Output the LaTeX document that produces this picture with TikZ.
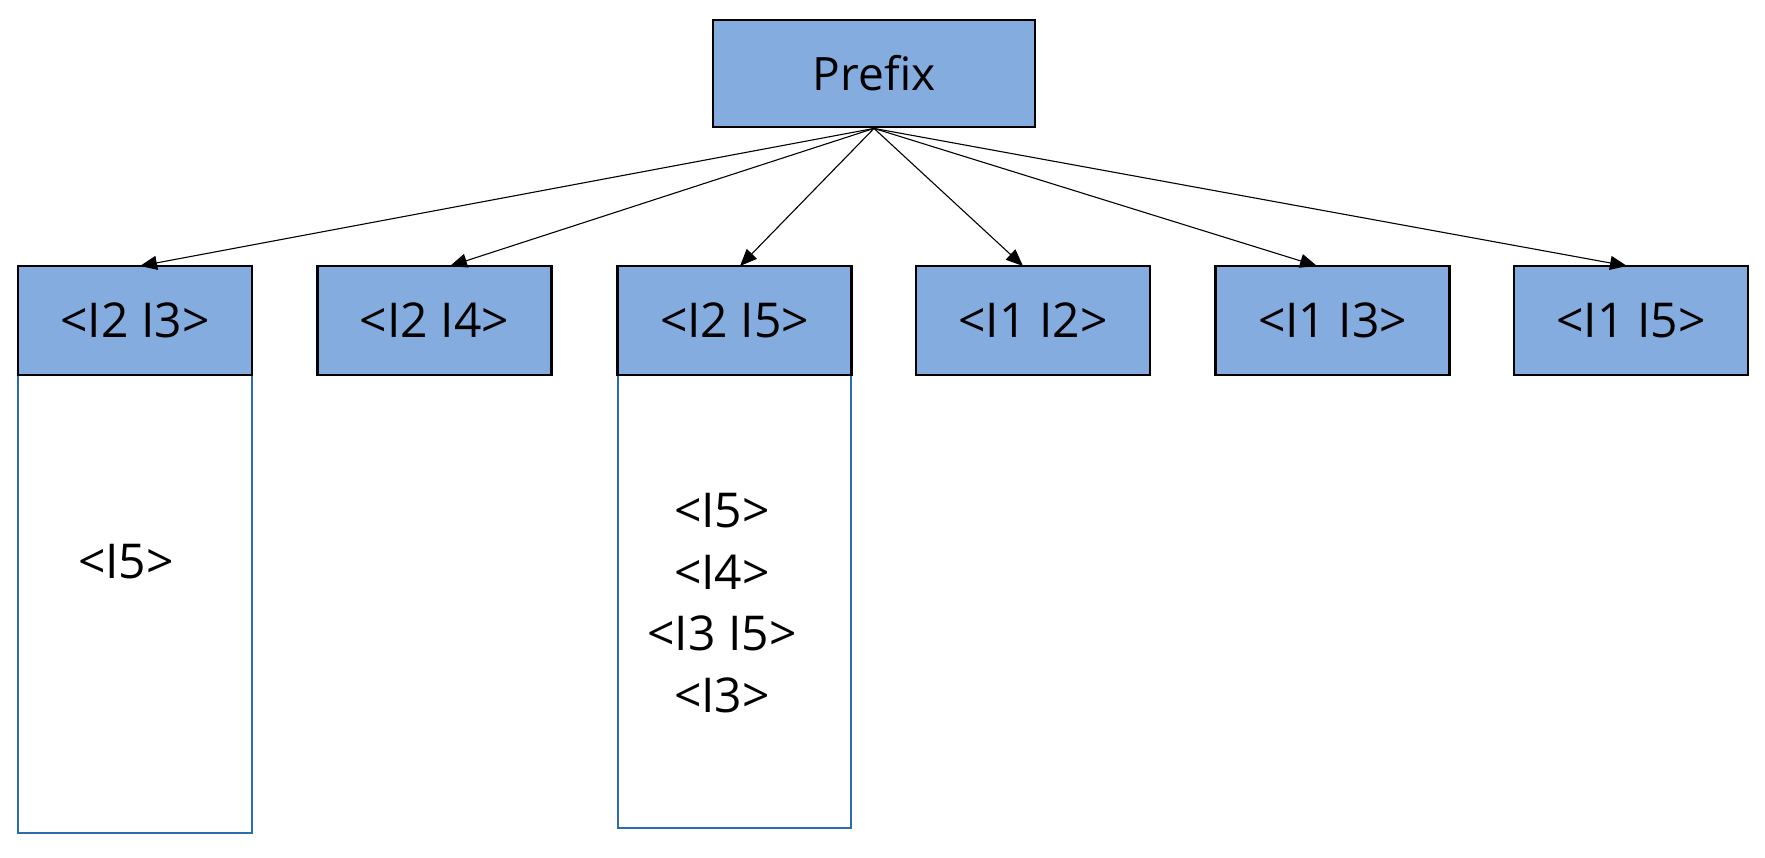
\documentclass[tikz,border=0pt]{standalone}
\usepackage{fontspec}
\setmainfont{Open Sans}
\usetikzlibrary{arrows.meta}
\definecolor{hdr}{RGB}{132,172,222}
\definecolor{colb}{RGB}{46,108,176}
\begin{document}
\begin{tikzpicture}[x=0.5pt,y=-0.5pt,
  hbox/.style={draw=black,line width=1.4pt,fill=hdr,minimum width=117pt,minimum height=54.5pt,inner sep=0pt,font=\fontsize{24}{28}\selectfont},
  pbox/.style={hbox,minimum width=161pt,minimum height=53.5pt,font=\fontsize{23}{27}\selectfont},
  colbox/.style={draw=colb,line width=1.1pt},
  itemtxt/.style={font=\fontsize{24}{30.75}\selectfont,align=center,inner sep=0pt},
  link/.style={draw=black,line width=0.55pt,-{Triangle[length=8.5pt,width=7pt]}}]
\useasboundingbox (0,0) rectangle (1765,857);
% top node
\node[pbox] (p) at (874,73.5) {Prefix};
% column boxes (drawn first)
\coordinate (c1a) at (18,375); \coordinate (c1b) at (252,833);
\coordinate (c3a) at (618,375); \coordinate (c3b) at (851,828);
\draw[colbox] (c1a) |- (c1b) |- (c1a);
\draw[colbox] (c3a) |- (c3b) |- (c3a);
% headers
\node[hbox] (h1) at (135,320.5) {<I2 I3>};
\node[hbox] (h2) at (434.5,320.5) {<I2 I4>};
\node[hbox] (h3) at (734.5,320.5) {<I2 I5>};
\node[hbox] (h4) at (1033,320.5) {<I1 I2>};
\node[hbox] (h5) at (1332.5,320.5) {<I1 I3>};
\node[hbox] (h6) at (1631,320.5) {<I1 I5>};
% column contents
\node[itemtxt] (t1) at (126,562) {<I5>};
\node[itemtxt] (t3) at (722,603) {<I5>\\<I4>\\<I3 I5>\\<I3>};
% arrow tips
\coordinate (a1) at (140,266);
\coordinate (a2) at (450,266);
\coordinate (a3) at (740,266);
\coordinate (a4) at (1023,266);
\coordinate (a5) at (1317,266);
\coordinate (a6) at (1627,266);
\foreach \i in {1,...,6} \draw[link] (p.south) -- (a\i);
\end{tikzpicture}
\end{document}
